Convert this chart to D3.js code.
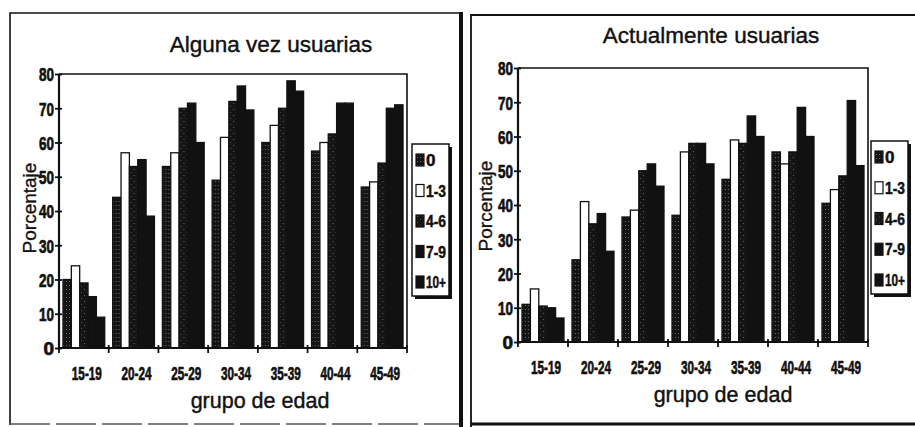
<!DOCTYPE html>
<html>
<head>
<meta charset="utf-8">
<script src="https://cdn.jsdelivr.net/npm/d3@7"></script>
<style>
  html, body { margin: 0; padding: 0; background: #fff; }
  svg { display: block; font-family: "Liberation Sans", Arial, sans-serif; }
</style>
</head>
<body>
<svg id="chart" width="915" height="427"></svg>
<script>
// Age groups on the x axis and number-of-children groups in the legend
const ageGroups = ["15-19", "20-24", "25-29", "30-34", "35-39", "40-44", "45-49"];
const childGroups = ["0", "1-3", "4-6", "7-9", "10+"];
const yTicks = [0, 10, 20, 30, 40, 50, 60, 70, 80];

// "Alguna vez usuarias": percentage per age group, one array per child group
const everUse0   = [20, 44, 53, 49, 60, 57.5, 47];
const everUse13  = [24, 57, 57, 61.5, 65, 60, 48.5];
const everUse46  = [19, 53, 70, 72, 70, 62.5, 54];
const everUse79  = [15, 55, 71.5, 76.5, 78, 71.5, 70];
const everUse10p = [9, 38.5, 60, 69.5, 75, 71.5, 71];

// "Actualmente usuarias"
const currUse0   = [11, 24, 36.5, 37, 47.5, 55.5, 40.5];
const currUse13  = [15.5, 41, 38.5, 55.5, 59, 52, 44.5];
const currUse46  = [10.5, 34.5, 50, 58, 58, 55.5, 48.5];
const currUse79  = [10, 37.5, 52, 58, 66, 68.5, 70.5];
const currUse10p = [7, 26.5, 45.5, 52, 60, 60, 51.5];

const svg = d3.select("#chart");
const ink = "#111";

// Fill patterns: stippled dark for "0" and "4-6", plain white and black otherwise
const defs = svg.append("defs");
const p0 = defs.append("pattern").attr("id", "pat0")
  .attr("width", 3).attr("height", 4).attr("patternUnits", "userSpaceOnUse");
p0.append("rect").attr("width", 3).attr("height", 4).attr("fill", "#151515");
p0.append("rect").attr("x", 1).attr("y", 1).attr("width", 1).attr("height", 1).attr("fill", "#6a6a6a");
const p46 = defs.append("pattern").attr("id", "pat46")
  .attr("width", 6).attr("height", 6).attr("patternUnits", "userSpaceOnUse");
p46.append("rect").attr("width", 6).attr("height", 6).attr("fill", "#151515");
p46.append("rect").attr("x", 1).attr("y", 1).attr("width", 1).attr("height", 1).attr("fill", "#5e5e5e");
p46.append("rect").attr("x", 4).attr("y", 4).attr("width", 1).attr("height", 1).attr("fill", "#4a4a4a");

const fills = {
  "0": "url(#pat0)", "1-3": "#fff", "4-6": "url(#pat46)", "7-9": ink, "10+": ink
};

// thin outline on text to give the heavier printed weight
function heavy(sel, w) {
  sel.attr("stroke", ink).attr("stroke-width", w).attr("fill", ink);
}

function drawPanel(cfg) {
  const g = svg.append("g");
  const rows = ageGroups.map((a, i) => ({
    age: a,
    values: childGroups.map((c, k) => ({ key: c, value: cfg.series[k][i] }))
  }));

  const x = d3.scaleBand().domain(ageGroups).range([cfg.left, cfg.right]).padding(0);
  const bw = x.bandwidth();
  const xs = d3.scaleBand().domain(childGroups).range([bw * 0.08, bw * 0.92]).padding(0);
  const y = d3.scaleLinear().domain([0, 80]).range([cfg.bottom, cfg.top]);

  // bars
  const groups = g.selectAll("g.grp").data(rows).join("g")
    .attr("transform", d => `translate(${x(d.age)},0)`);
  groups.selectAll("rect").data(d => d.values).join("rect")
    .attr("x", d => xs(d.key))
    .attr("y", d => y(d.value))
    .attr("width", xs.bandwidth())
    .attr("height", d => y(0) - y(d.value))
    .attr("fill", d => fills[d.key])
    .attr("stroke", ink)
    .attr("stroke-width", 1.3);

  // plot frame (top and right)
  g.append("path")
    .attr("d", `M${cfg.left},${y(80)}H${cfg.right}V${y(0)}`)
    .attr("fill", "none").attr("stroke", ink).attr("stroke-width", 1.6);

  // y axis
  const yAxis = d3.axisLeft(y).tickValues(yTicks).tickSize(4).tickFormat(d3.format("d"));
  const ya = g.append("g").attr("transform", `translate(${cfg.left},0)`).call(yAxis);
  ya.attr("font-size", null).attr("font-family", null);
  ya.select(".domain").attr("stroke", ink).attr("stroke-width", 2.2)
    .attr("d", `M0,${y(80)}V${y(0) + 2}`);
  ya.selectAll(".tick line").attr("stroke", ink).attr("stroke-width", 1.8).attr("x1", 3);
  ya.selectAll(".tick text")
    .attr("x", -5).attr("dy", "0.36em")
    .style("font-size", "19px").style("font-weight", "bold")
    .each(function(d) {
      if (d >= 10) d3.select(this).attr("textLength", 15).attr("lengthAdjust", "spacingAndGlyphs");
    })
    .call(heavy, 0.7);

  // x axis: ticks at category boundaries, labels under each group
  const xa = g.append("g").attr("transform", `translate(0,${y(0)})`);
  xa.append("line").attr("x1", cfg.left).attr("x2", cfg.right)
    .attr("stroke", ink).attr("stroke-width", 2.2);
  const bounds = ageGroups.map(a => x(a)).concat([cfg.right]);
  xa.selectAll("line.tk").data(bounds).join("line").attr("class", "tk")
    .attr("x1", d => d).attr("x2", d => d).attr("y1", -3).attr("y2", 5)
    .attr("stroke", ink).attr("stroke-width", 1.8);
  xa.selectAll("text").data(ageGroups).join("text")
    .attr("x", d => x(d) + bw / 2 + 3)
    .attr("y", 32)
    .attr("text-anchor", "middle")
    .style("font-size", "19px").style("font-weight", "bold")
    .attr("textLength", 30).attr("lengthAdjust", "spacingAndGlyphs")
    .call(heavy, 0.7)
    .text(d => d);

  // titles
  g.append("text").attr("x", cfg.titleX).attr("y", cfg.titleY)
    .attr("text-anchor", "middle").style("font-size", "22.5px")
    .call(heavy, 0.4)
    .text(cfg.title);
  g.append("text").attr("x", cfg.xTitleX).attr("y", cfg.xTitleY)
    .attr("text-anchor", "middle").style("font-size", "21.5px")
    .call(heavy, 0.4)
    .text("grupo de edad");
  g.append("text")
    .attr("transform", `translate(${cfg.yTitleX},${cfg.yTitleY}) rotate(-90)`)
    .attr("text-anchor", "middle").style("font-size", "19px")
    .call(heavy, 0.35)
    .text("Porcentaje");

  // legend with drop shadow
  const L = cfg.legend;
  g.append("rect").attr("x", L.x + 3).attr("y", L.y + 3).attr("width", L.w).attr("height", L.h)
    .attr("fill", ink);
  g.append("rect").attr("x", L.x).attr("y", L.y).attr("width", L.w).attr("height", L.h)
    .attr("fill", "#fff").attr("stroke", ink).attr("stroke-width", 1.5);
  const step = (L.h - 30) / (childGroups.length - 1);
  const li = g.selectAll("g.leg").data(childGroups).join("g")
    .attr("transform", (d, i) => `translate(${L.x + 4},${L.y + 16 + i * step})`);
  li.append("rect").attr("x", 0).attr("y", -6).attr("width", 8).attr("height", 12)
    .attr("fill", d => fills[d]).attr("stroke", ink).attr("stroke-width", 1.2);
  li.append("text").attr("x", 10).attr("y", 0).attr("dy", "0.36em")
    .style("font-size", "17px").style("font-weight", "bold")
    .each(function(d) {
      if (d.length > 1) d3.select(this).attr("textLength", 20)
        .attr("lengthAdjust", "spacingAndGlyphs");
    })
    .call(heavy, 0.5)
    .text(d => d);
}

// outer frames of the two panels
svg.append("path").attr("d", "M10,425V13H461").attr("fill", "none")
  .attr("stroke", ink).attr("stroke-width", 1.6);
svg.append("line").attr("x1", 10).attr("x2", 461).attr("y1", 424).attr("y2", 424)
  .attr("stroke", "#555").attr("stroke-width", 1.4).attr("stroke-dasharray", "40,6");
svg.append("line").attr("x1", 461).attr("x2", 461).attr("y1", 12).attr("y2", 427)
  .attr("stroke", ink).attr("stroke-width", 4);
svg.append("path").attr("d", "M471,427V15H915").attr("fill", "none")
  .attr("stroke", ink).attr("stroke-width", 1.8);
svg.append("line").attr("x1", 471).attr("x2", 915).attr("y1", 424).attr("y2", 424)
  .attr("stroke", ink).attr("stroke-width", 3);

drawPanel({
  title: "Alguna vez usuarias",
  series: [everUse0, everUse13, everUse46, everUse79, everUse10p],
  left: 59, right: 407, top: 74, bottom: 348,
  titleX: 271, titleY: 52,
  xTitleX: 260, xTitleY: 408,
  yTitleX: 36, yTitleY: 208,
  legend: { x: 412, y: 144, w: 37, h: 152 }
});

drawPanel({
  title: "Actualmente usuarias",
  series: [currUse0, currUse13, currUse46, currUse79, currUse10p],
  left: 518, right: 868, top: 68, bottom: 342,
  titleX: 711, titleY: 43,
  xTitleX: 723, xTitleY: 402,
  yTitleX: 492, yTitleY: 206,
  legend: { x: 871, y: 141, w: 37, h: 153 }
});
</script>
</body>
</html>
